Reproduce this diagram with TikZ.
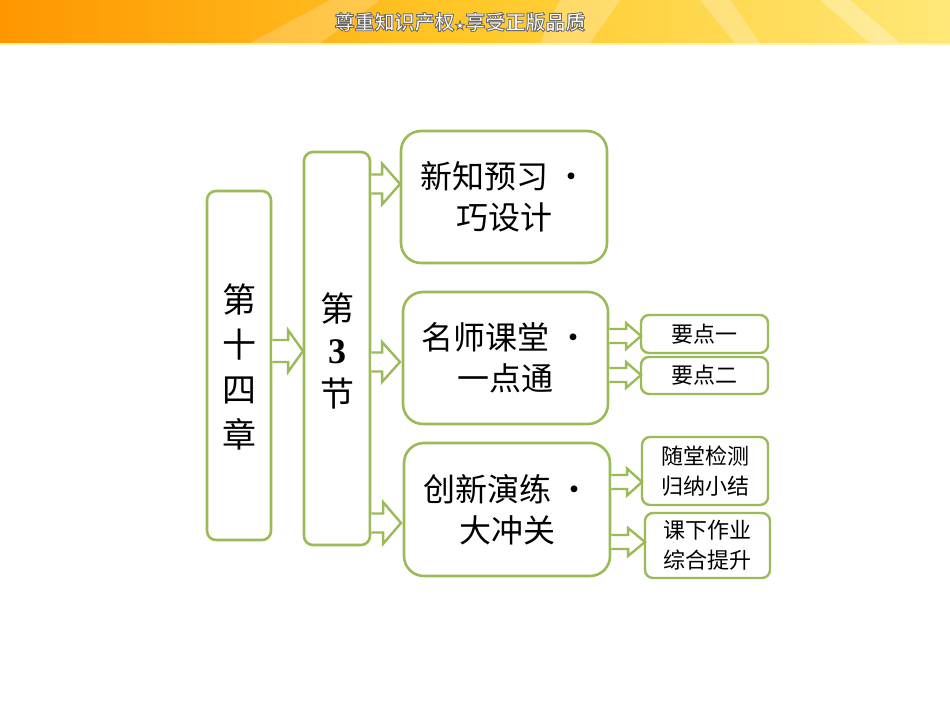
\documentclass[tikz,border=0pt]{standalone}
\usepackage{fontspec}
\setmainfont{Liberation Serif}
\newfontfamily\cjk{Noto Sans CJK SC}
\newfontfamily\cjkb{Noto Sans CJK SC Bold}
\newfontfamily\symf{DejaVu Sans}
\usetikzlibrary{calc}
\definecolor{gr}{RGB}{155,187,89}
\definecolor{orA}{RGB}{255,150,0}
\definecolor{orB}{RGB}{255,200,40}
\definecolor{orC}{RGB}{255,232,120}
\tikzset{
  tallbox/.style={draw=gr,line width=2.6bp,rounded corners=9bp,fill=white},
  bigbox/.style={draw=gr,line width=2.6bp,rounded corners=20bp,fill=white,
     align=center,font=\cjk\fontsize{32bp}{41bp}\selectfont},
  smallbox/.style={draw=gr,line width=2.4bp,rounded corners=8bp,fill=white,
     align=center,font=\cjk\fontsize{22bp}{30bp}\selectfont},
  blk/.style={draw=gr,line width=2.4bp,fill=white,line join=miter},
}
% block arrow: #1 source node, #2 tip coordinate, #3 shaft half, #4 head half, #5 head length
\newcommand\barrow[5]{%
  \draw[blk] let \p1=(#1.east), \p2=(#2) in
    (\x1,{\y2+#3}) -- ({\x2-#5},{\y2+#3}) -- ({\x2-#5},{\y2+#4}) -- (\x2,\y2)
    -- ({\x2-#5},{\y2-#4}) -- ({\x2-#5},{\y2-#3}) -- (\x1,{\y2-#3});}
\newcommand\outlined[1]{\special{pdf:literal direct 2 Tr 0.9 w 0.42 G}#1\special{pdf:literal direct 0 Tr}}
\begin{document}
\begin{tikzpicture}[x=1bp,y=-1bp]
\useasboundingbox (0,0) rectangle (950,713);
% banner
\shade[left color=orA,right color=orC,middle color=orB] (0,0) rectangle (950,43);
\fill[white,opacity=0.25] (560,0) -- (620,0) -- (590,43) -- (540,43) -- cycle;
\fill[white,opacity=0.25] (700,0) -- (730,0) -- (760,43) -- (735,43) -- cycle;
\fill[white,opacity=0.3] (820,0) -- (850,0) -- (900,43) -- (870,43) -- cycle;
\fill[white,opacity=0.2] (250,43) -- (330,0) -- (380,0) -- (320,43) -- cycle;
\fill[orC!60!white] (0,43) rectangle (950,45);
\node (ban) [text=white,font=\cjkb\fontsize{20bp}{20bp}\selectfont] at (460,22)
  {\outlined{尊重知识产权{\symf\fontsize{12bp}{12bp}\selectfont ★}享受正版品质}};
% boxes
\node (ch) [tallbox,minimum width=64bp,minimum height=349bp] at (239,365.5) {};
\node[font=\cjk\fontsize{34bp}{45bp}\selectfont,align=center] at (239,367) {第\\十\\四\\章};
\node (se) [tallbox,minimum width=66bp,minimum height=393bp] at (337,348.5) {};
\node[align=center] at (337,351) {{\cjk\fontsize{34bp}{34bp}\selectfont 第}\\[15bp]
  {\fontsize{36bp}{36bp}\selectfont\bfseries 3}\\[13bp]{\cjk\fontsize{34bp}{34bp}\selectfont 节}};
\node (b1) [bigbox,minimum width=206bp,minimum height=132bp] at (504,197) {新知预习 ·\\巧设计};
\node (b2) [bigbox,minimum width=205bp,minimum height=132bp] at (505.5,358) {名师课堂 ·\\一点通};
\node (b3) [bigbox,minimum width=206bp,minimum height=133bp] at (507,509.5) {创新演练 ·\\大冲关};
\node (s1) [smallbox,minimum width=127bp,minimum height=38bp] at (704.5,334) {要点一};
\node (s2) [smallbox,minimum width=127bp,minimum height=37bp] at (704.5,375.5) {要点二};
\node (s3) [smallbox,minimum width=126bp,minimum height=68bp] at (705,471) {随堂检测\\归纳小结};
\node (s4) [smallbox,minimum width=125bp,minimum height=65bp] at (707.5,545.5) {课下作业\\综合提升};
% arrow tips
\coordinate (t0) at (303,351);
\coordinate (t1) at (400,184);
\coordinate (t2) at (400,362);
\coordinate (t3) at (401,523);
\coordinate (u1) at (641,336);
\coordinate (u2) at (641,375);
\coordinate (u3) at (642,482);
\coordinate (u4) at (645,542);
\barrow{ch}{t0}{11}{21}{15}
\barrow{se}{t1}{9.5}{20.5}{18}
\barrow{se}{t2}{9.5}{20}{18}
\barrow{se}{t3}{9.5}{21}{18}
\barrow{b2}{u1}{7}{13}{15}
\barrow{b2}{u2}{7}{13}{15}
\barrow{b3}{u3}{7}{13.5}{15}
\barrow{b3}{u4}{7}{14}{17}
\end{tikzpicture}
\end{document}
